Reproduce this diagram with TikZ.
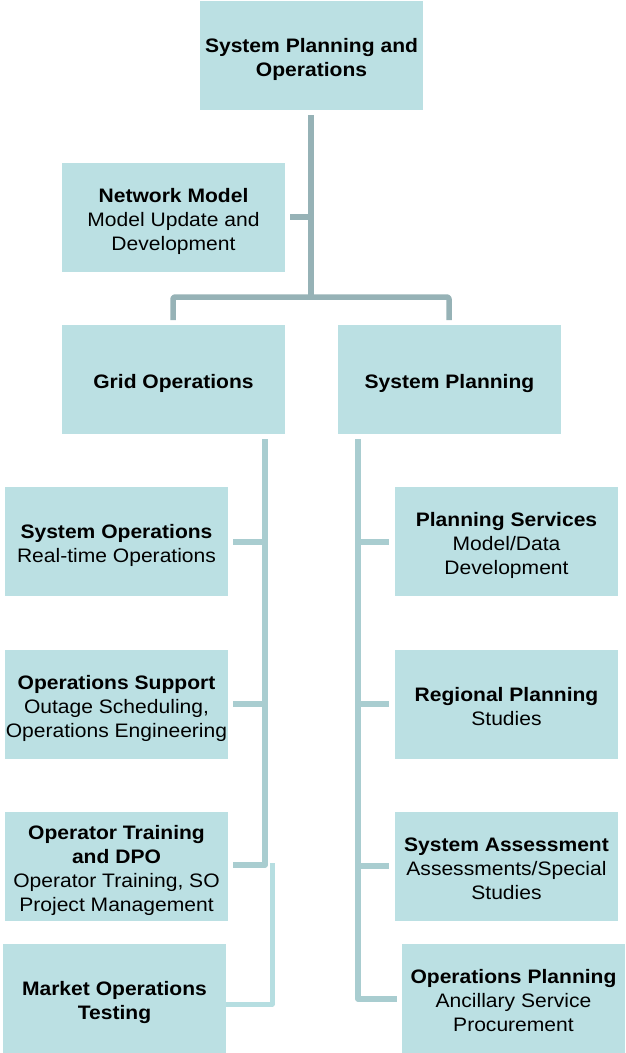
\documentclass[tikz,border=0pt]{standalone}
\usepackage{fontspec}
\setmainfont{Liberation Sans}[FakeStretch=1.08]
\definecolor{boxfill}{HTML}{BBE0E3}
\definecolor{mainline}{HTML}{96B2B6}
\definecolor{subline}{HTML}{A9CDD0}
\definecolor{paleline}{HTML}{B6DEE1}
\newcommand{\orgtext}[1]{\raisebox{-4.5pt}[\height][\depth]{\begin{tabular}{@{}c@{}}#1\end{tabular}}}
\tikzset{
  orgbox/.style={fill=boxfill, minimum width=223pt, minimum height=109pt, inner sep=0pt, font=\fontsize{19.5}{24}\selectfont},
  mainlink/.style={draw=mainline, line width=5.5pt, line cap=butt, line join=round},
  sublink/.style={draw=subline, line width=5.5pt, line cap=butt, line join=round},
  palelink/.style={draw=paleline, line width=5pt, line cap=butt, line join=round}
}
\begin{document}
\begin{tikzpicture}[x=1pt,y=-1pt]
\useasboundingbox (0,0) rectangle (625,1053);
% boxes
\node[orgbox] (top) at (311.5,55) {\orgtext{\textbf{System Planning and}\\\textbf{Operations}}};
\node[orgbox] (nm) at (173.5,217) {\orgtext{\textbf{Network Model}\\Model Update and\\Development}};
\node[orgbox] (go) at (173.5,379) {\orgtext{\textbf{Grid Operations}}};
\node[orgbox] (sp) at (449.5,379) {\orgtext{\textbf{System Planning}}};
\node[orgbox] (so) at (116.5,541.5) {\orgtext{\textbf{System Operations}\\Real-time Operations}};
\node[orgbox] (os) at (116.5,704) {\orgtext{\textbf{Operations Support}\\Outage Scheduling,\\Operations Engineering}};
\node[orgbox] (ot) at (116.5,866) {\orgtext{\textbf{Operator Training}\\\textbf{and DPO}\\Operator Training, SO\\Project Management}};
\node[orgbox] (mo) at (114.5,998) {\orgtext{\textbf{Market Operations}\\\textbf{Testing}}};
\node[orgbox] (ps) at (506.5,541.5) {\orgtext{\textbf{Planning Services}\\Model/Data\\Development}};
\node[orgbox] (rp) at (506.5,704) {\orgtext{\textbf{Regional Planning}\\Studies}};
\node[orgbox] (sa) at (506.5,866) {\orgtext{\textbf{System Assessment}\\Assessments/Special\\Studies}};
\node[orgbox] (op) at (513.5,998.5) {\orgtext{\textbf{Operations Planning}\\Ancillary Service\\Procurement}};
% coordinates of the connector network
\coordinate (topdrop) at (311,115);
\coordinate (nmjoin) at (311,217);
\coordinate (nmend) at (290,217);
\coordinate (split) at (311,297);
\coordinate (splitL) at (173,297);
\coordinate (splitR) at (449,297);
\coordinate (goend) at (173,320);
\coordinate (spend) at (449,320);
\coordinate (gotop) at (265,439);
\coordinate (gobot) at (265,865);
\coordinate (otend) at (233,865);
\coordinate (sojoin) at (265,542);
\coordinate (soend) at (233,542);
\coordinate (osjoin) at (265,704);
\coordinate (osend) at (233,704);
\coordinate (motop) at (272,863);
\coordinate (mobot) at (272,1004);
\coordinate (moend) at (226,1004);
\coordinate (sptop) at (358,439);
\coordinate (spbot) at (358,999);
\coordinate (opend) at (397,999);
\coordinate (psjoin) at (358,542);
\coordinate (psend) at (389,542);
\coordinate (rpjoin) at (358,704);
\coordinate (rpend) at (389,704);
\coordinate (sajoin) at (358,866);
\coordinate (saend) at (389,866);
% connectors
\draw[mainlink] (topdrop) -- (split);
\draw[mainlink] (nmend) -- (nmjoin);
\draw[mainlink, rounded corners=2pt] (goend) -- (splitL) -- (splitR) -- (spend);
\draw[sublink] (gotop) -- (gobot) -- (otend);
\draw[sublink] (soend) -- (sojoin);
\draw[sublink] (osend) -- (osjoin);
\draw[palelink] (motop) -- (mobot) -- (moend);
\draw[sublink] (sptop) -- (spbot) -- (opend);
\draw[sublink] (psjoin) -- (psend);
\draw[sublink] (rpjoin) -- (rpend);
\draw[sublink] (sajoin) -- (saend);
\end{tikzpicture}
\end{document}
